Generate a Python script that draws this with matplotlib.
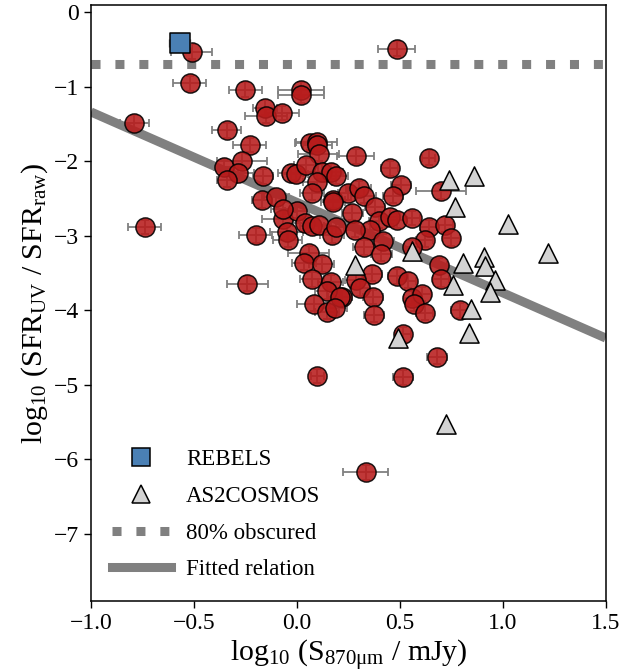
import numpy as np
import matplotlib
matplotlib.use("Agg")
import matplotlib.pyplot as plt
from matplotlib.lines import Line2D

plt.rcParams['font.family'] = 'serif'
plt.rcParams['font.serif'] = ['Liberation Serif', 'DejaVu Serif']
plt.rcParams['mathtext.fontset'] = 'custom'
plt.rcParams['mathtext.rm'] = 'Liberation Serif'
plt.rcParams['mathtext.it'] = 'Liberation Serif:italic'

# sample galaxies: log10 S870 (mJy), log10 SFR_UV/SFR_raw, x error
s870 = [-0.51, 0.485, -0.52, -0.25, 0.02, 0.02, -0.155, -0.15, -0.07, -0.79,
        -0.34, -0.23, 0.063, 0.097, 0.10, 0.107, 0.286, -0.354, -0.267, -0.286,
        -0.34, -0.165, -0.03, -0.005, 0.044, 0.12, 0.165, 0.19, 0.10, 0.073,
        0.175, 0.25, 0.30, 0.325, -0.17, -0.10, 0.64, 0.45, 0.505, 0.70,
        0.466, 0.27, 0.38, 0.40, 0.45, 0.485, 0.56, 0.354, 0.42, 0.325,
        0.41, 0.64, 0.72, 0.75, 0.62, 0.56, 0.69, 0.70, 0.364, 0.485,
        0.54, 0.286, 0.306, 0.22, 0.37, 0.56, 0.61, 0.57, 0.62, 0.374,
        0.79, 0.515, 0.68, 0.515, 0.335, 0.10, -0.74, -0.20, -0.24, -0.068,
        -0.05, -0.044, 0.0, 0.04, 0.073, 0.107, 0.17, 0.19, 0.175, 0.28,
        0.058, 0.034, 0.12, 0.073, 0.165, 0.146, 0.21, 0.083, 0.146, 0.184,
        -0.068]
ratio = [-0.53, -0.49, -0.95, -1.04, -1.04, -1.11, -1.28, -1.39, -1.35, -1.48,
         -1.58, -1.78, -1.75, -1.74, -1.78, -1.90, -1.93, -2.07, -1.99, -2.15,
         -2.25, -2.20, -2.15, -2.17, -2.05, -2.14, -2.14, -2.20, -2.27, -2.42,
         -2.52, -2.42, -2.36, -2.46, -2.52, -2.48, -1.95, -2.09, -2.32, -2.40,
         -2.46, -2.69, -2.61, -2.80, -2.74, -2.79, -2.76, -2.92, -3.07, -3.15,
         -3.24, -2.88, -2.85, -3.03, -3.05, -3.15, -3.39, -3.58, -3.51, -3.54,
         -3.60, -3.59, -3.70, -3.82, -3.82, -3.83, -3.78, -3.91, -4.03, -4.06,
         -4.00, -4.32, -4.62, -4.90, -6.17, -4.88, -2.88, -2.99, -3.64, -2.77,
         -2.95, -3.05, -2.66, -2.83, -2.87, -2.85, -2.99, -2.88, -2.55, -2.92,
         -3.23, -3.36, -3.38, -3.58, -3.62, -3.74, -3.82, -3.91, -4.02, -3.97,
         -2.64]
s870_err = [0.10, 0.09, 0.08, 0.08, 0.11, 0.11, 0.06, 0.10, 0.08, 0.07,
            0.07, 0.08, 0.07, 0.10, 0.07, 0.10, 0.09, 0.05, 0.12, 0.08,
            0.05, 0.05, 0.06, 0.06, 0.06, 0.10, 0.06, 0.06, 0.07, 0.06,
            0.06, 0.05, 0.06, 0.06, 0.05, 0.06, 0.03, 0.04, 0.05, 0.12,
            0.05, 0.05, 0.05, 0.05, 0.05, 0.05, 0.04, 0.05, 0.05, 0.05,
            0.05, 0.04, 0.04, 0.04, 0.04, 0.04, 0.04, 0.04, 0.05, 0.04,
            0.04, 0.05, 0.05, 0.05, 0.05, 0.04, 0.04, 0.04, 0.04, 0.05,
            0.04, 0.04, 0.05, 0.05, 0.11, 0.03, 0.08, 0.08, 0.10, 0.10,
            0.08, 0.07, 0.06, 0.06, 0.06, 0.06, 0.06, 0.05, 0.06, 0.05,
            0.10, 0.06, 0.06, 0.06, 0.06, 0.06, 0.06, 0.08, 0.06, 0.06,
            0.06]
ratio_err = 0.1

# AS2COSMOS comparison sample
as2_s870 = [0.74, 0.86, 0.767, 1.024, 1.218, 0.558, 0.28, 0.806, 0.908, 0.913,
            0.96, 0.94, 0.757, 0.845, 0.835, 0.49, 0.723]
as2_ratio = [-2.25, -2.20, -2.61, -2.84, -3.23, -3.20, -3.39, -3.36, -3.28, -3.40,
             -3.59, -3.75, -3.66, -3.98, -4.30, -4.37, -5.52]

# REBELS
rebels_s870 = [-0.57]
rebels_ratio = [-0.41]
rebels_err = [0.05]

# fitted relation and 80% obscured level
fit_intercept = -2.55
fit_slope = -1.214
obscured_level = np.log10(0.2)

fig = plt.figure(figsize=(6.43, 6.72), dpi=100)
ax = fig.add_axes([0.1415, 0.1057, 0.8005, 0.8869])

xfit = np.array([-1.0, 1.5])
ax.plot(xfit, fit_intercept + fit_slope * xfit, color='gray', lw=6.5,
        solid_capstyle='butt', zorder=1)
ax.plot(xfit, [obscured_level, obscured_level], color='gray', lw=6.5,
        linestyle=':', zorder=1)

ax.errorbar(s870, ratio, xerr=s870_err, yerr=ratio_err, fmt='none',
            ecolor='gray', elinewidth=1.3, capsize=3, capthick=1.3, zorder=2)
ax.scatter(s870, ratio, s=190, c='#b81c1c', edgecolors='black', linewidths=1.1,
           alpha=0.88, zorder=3)

ax.scatter(as2_s870, as2_ratio, s=190, marker='^', c='#d3d3d3',
           edgecolors='black', linewidths=1.1, zorder=4)

ax.errorbar(rebels_s870, rebels_ratio, xerr=rebels_err, fmt='none',
            ecolor='gray', elinewidth=1.3, capsize=3, zorder=4)
ax.scatter(rebels_s870, rebels_ratio, s=190, marker='s', c='#4a80b5',
           edgecolors='black', linewidths=1.1, zorder=5)

ax.set_xlim(-1.0, 1.5)
ax.set_ylim(-7.9, 0.1)
ax.set_xticks([-1.0, -0.5, 0.0, 0.5, 1.0, 1.5])
ax.set_yticks([0, -1, -2, -3, -4, -5, -6, -7])
ax.tick_params(direction='out', length=5, width=1, labelsize=17)
for sp in ax.spines.values():
    sp.set_linewidth(1.1)

ax.set_xlabel(r'log$_{10}$ (S$_{\mathrm{870μm}}$ / mJy)', fontsize=21.5, labelpad=3)
ax.set_ylabel(r'log$_{10}$ (SFR$_{\mathrm{UV}}$ / SFR$_{\mathrm{raw}}$)', fontsize=21.5, labelpad=3)

handles = [
    Line2D([], [], marker='s', ls='none', ms=13, mfc='#4a80b5', mec='black', mew=1.1),
    Line2D([], [], marker='^', ls='none', ms=13, mfc='#d3d3d3', mec='black', mew=1.1),
    Line2D([], [], color='gray', lw=6.5, ls=':'),
    Line2D([], [], color='gray', lw=6.5),
]
labels = ['REBELS', 'AS2COSMOS', '80% obscured', 'Fitted relation']
ax.legend(handles, labels, loc='lower left', frameon=False, fontsize=16.5,
          handlelength=2.6, handletextpad=0.65, labelspacing=0.68)

fig.savefig('out.png', dpi=100)
